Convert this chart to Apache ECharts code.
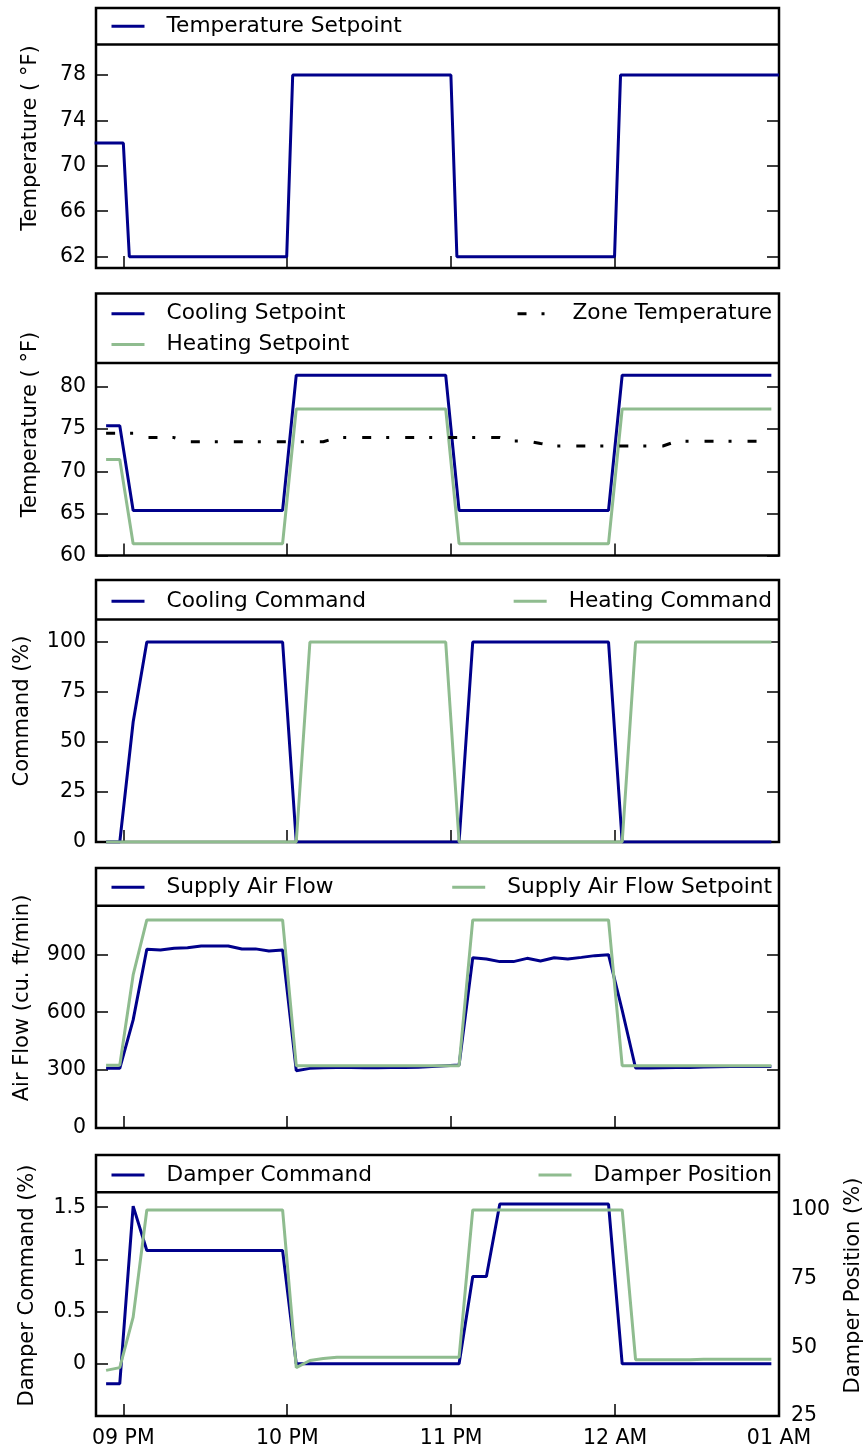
<!DOCTYPE html>
<html><head><meta charset="utf-8">
<script src="https://cdn.jsdelivr.net/npm/echarts@6/dist/echarts.min.js"></script>
<style>html,body{margin:0;padding:0;background:#fff}#c{width:867px;height:1450px}</style>
</head><body><div id="c"></div>
<script>
// x values are minutes after 20:00
const hourTicks = [60, 120, 180, 240, 300];
const hourLabels = ['09 PM', '10 PM', '11 PM', '12 AM', '01 AM'];

const sampleMinutes = [53.7, 58.7, 63.6, 68.6, 73.6, 78.6, 83.5, 88.5, 93.5, 98.4,
  103.4, 108.4, 113.3, 118.3, 123.3, 128.3, 133.2, 138.2, 143.2, 148.1,
  153.1, 158.1, 163.0, 168.0, 173.0, 178.0, 182.9, 187.9, 192.9, 197.8,
  202.8, 207.8, 212.7, 217.7, 222.7, 227.7, 232.6, 237.6, 242.6, 247.5,
  252.5, 257.5, 262.4, 267.4, 272.4, 277.4, 282.3, 287.3, 292.3, 297.2];

const setpointMinutes = [49.5, 60.0, 62.2, 119.8, 122.0, 179.9, 182.1, 239.8, 242.0, 300.0];
const temperatureSetpoint = [72, 72, 62, 62, 78, 78, 62, 62, 78, 78];

const coolingSetpoint = [75.4, 75.4,
  65.35, 65.35, 65.35, 65.35, 65.35, 65.35, 65.35, 65.35, 65.35, 65.35, 65.35, 65.35,
  81.4, 81.4, 81.4, 81.4, 81.4, 81.4, 81.4, 81.4, 81.4, 81.4, 81.4, 81.4,
  65.35, 65.35, 65.35, 65.35, 65.35, 65.35, 65.35, 65.35, 65.35, 65.35, 65.35, 65.35,
  81.4, 81.4, 81.4, 81.4, 81.4, 81.4, 81.4, 81.4, 81.4, 81.4, 81.4, 81.4];
const heatingSetpoint = [71.4, 71.4,
  61.4, 61.4, 61.4, 61.4, 61.4, 61.4, 61.4, 61.4, 61.4, 61.4, 61.4, 61.4,
  77.4, 77.4, 77.4, 77.4, 77.4, 77.4, 77.4, 77.4, 77.4, 77.4, 77.4, 77.4,
  61.4, 61.4, 61.4, 61.4, 61.4, 61.4, 61.4, 61.4, 61.4, 61.4, 61.4, 61.4,
  77.4, 77.4, 77.4, 77.4, 77.4, 77.4, 77.4, 77.4, 77.4, 77.4, 77.4, 77.4];
const zoneTemperature = [74.5, 74.5, 74.5, 74.0, 74.0, 74.0,
  73.5, 73.5, 73.5, 73.5, 73.5, 73.5, 73.5, 73.5, 73.5, 73.5, 73.5,
  74.0, 74.0, 74.0, 74.0, 74.0, 74.0, 74.0, 74.0, 74.0, 74.0, 74.0, 74.0, 74.0,
  73.6, 73.6, 73.3,
  73.0, 73.0, 73.0, 73.0, 73.0, 73.0, 73.0, 73.0, 73.0,
  73.55, 73.55, 73.55, 73.55, 73.55, 73.55, 73.55, 73.55];

const coolingCommand = [0, 0, 60,
  100, 100, 100, 100, 100, 100, 100, 100, 100, 100, 100,
  0, 0, 0, 0, 0, 0, 0, 0, 0, 0, 0, 0, 0,
  100, 100, 100, 100, 100, 100, 100, 100, 100, 100, 100,
  0, 0, 0, 0, 0, 0, 0, 0, 0, 0, 0, 0];
const heatingCommand = [0, 0, 0, 0, 0, 0, 0, 0, 0, 0, 0, 0, 0, 0, 0,
  100, 100, 100, 100, 100, 100, 100, 100, 100, 100, 100,
  0, 0, 0, 0, 0, 0, 0, 0, 0, 0, 0, 0, 0,
  100, 100, 100, 100, 100, 100, 100, 100, 100, 100, 100];

const supplyAirFlow = [309, 309, 560,
  926, 922, 931, 934, 943, 943, 943, 927, 928, 917, 922,
  297, 309, 312, 313, 313, 312, 312, 313, 314, 315, 318, 322, 326,
  882, 876, 862, 862, 879, 865, 882, 876, 884, 893, 898,
  610, 311, 311, 312, 313, 314, 316, 317, 318, 318, 318, 318];
const supplyAirFlowSetpoint = [325, 325, 793,
  1078, 1078, 1078, 1078, 1078, 1078, 1078, 1078, 1078, 1078, 1078,
  323, 323, 323, 323, 323, 323, 323, 323, 323, 323, 323, 323, 323,
  1078, 1078, 1078, 1078, 1078, 1078, 1078, 1078, 1078, 1078, 1078,
  323, 323, 323, 323, 323, 323, 323, 323, 323, 323, 323, 323];

const damperCommand = [-0.19, -0.19, 1.51,
  1.085, 1.085, 1.085, 1.085, 1.085, 1.085, 1.085, 1.085, 1.085, 1.085, 1.085,
  0, 0, 0, 0, 0, 0, 0, 0, 0, 0, 0, 0, 0,
  0.836, 0.836,
  1.53, 1.53, 1.53, 1.53, 1.53, 1.53, 1.53, 1.53, 1.53,
  0, 0, 0, 0, 0, 0, 0, 0, 0, 0, 0, 0];
const damperPosition = [41.6, 42.6, 61,
  100, 100, 100, 100, 100, 100, 100, 100, 100, 100, 100,
  42.6, 45.2, 45.9,
  46.4, 46.4, 46.4, 46.4, 46.4, 46.4, 46.4, 46.4, 46.4, 46.4,
  100, 100, 100, 100, 100, 100, 100, 100, 100, 100, 100, 100,
  45.5, 45.5, 45.5, 45.5, 45.5,
  45.7, 45.7, 45.7, 45.7, 45.7, 45.7];

const yTicks1 = [62, 66, 70, 74, 78];
const yTicks2 = [60, 65, 70, 75, 80];
const yTicks3 = [0, 25, 50, 75, 100];
const yTicks4 = [0, 300, 600, 900];
const yTicks5 = [0, 0.5, 1, 1.5];
const yTicks5r = [25, 50, 75, 100];

const FONT = 'DejaVu Sans';
const BLUE = '#00008B';
const GREEN = '#8FBC8F';
const LW = 3;
const TICK_FS = 20.5;

const panels = [
  {top: 8, bottom: 268, sep: 44.5, ymin: 61, ymax: 83.9, ticks: yTicks1, name: 'Temperature ( °F)', gap: 55},
  {top: 293.5, bottom: 555.5, sep: 363, ymin: 60, ymax: 91.1, ticks: yTicks2, name: 'Temperature ( °F)', gap: 55},
  {top: 580, bottom: 842, sep: 619.5, ymin: 0, ymax: 131, ticks: yTicks3, name: 'Command (%)', gap: 63},
  {top: 868, bottom: 1128, sep: 905.7, ymin: 0, ymax: 1347, ticks: yTicks4, name: 'Air Flow (cu. ft/min)', gap: 63},
  {top: 1155, bottom: 1416, sep: 1192.3, ymin: -0.5, ymax: 2.0, ticks: yTicks5, name: 'Damper Command (%)', gap: 58}
];

const grids = [], xAxes = [], yAxes = [], graphics = [];
panels.forEach((p, i) => {
  grids.push({left: 96, width: 683, top: p.top, height: p.bottom - p.top, show: true,
    borderColor: '#000', borderWidth: 2.5, backgroundColor: 'transparent',
    containLabel: false, outerBoundsMode: 'none'});
  xAxes.push({type: 'value', gridIndex: i, min: 50, max: 300, position: 'bottom',
    axisLine: {show: false, onZero: false}, splitLine: {show: false},
    axisTick: {inside: true, length: 12, lineStyle: {color: '#000', width: 1.5}, customValues: hourTicks},
    axisLabel: {show: i === 4, customValues: hourTicks, formatter: v => hourLabels[hourTicks.indexOf(v)],
      fontSize: TICK_FS, color: '#000', fontFamily: FONT, margin: 12}});
  yAxes.push({type: 'value', gridIndex: i, position: 'left', min: p.ymin, max: p.ymax,
    name: p.name, nameLocation: 'middle', nameGap: p.gap, nameRotate: 90,
    nameTextStyle: {fontSize: 21, color: '#000', fontFamily: FONT},
    axisLine: {show: false, onZero: false}, splitLine: {show: false},
    axisTick: {inside: true, length: 12, lineStyle: {color: '#000', width: 1.5}, customValues: p.ticks},
    axisLabel: {customValues: p.ticks, fontSize: TICK_FS, color: '#000', fontFamily: FONT, margin: 10}});
  if (i < 4) {
    yAxes.push({type: 'value', gridIndex: i, position: 'right', min: p.ymin, max: p.ymax,
      axisLine: {show: false, onZero: false}, splitLine: {show: false},
      axisTick: {inside: true, length: 12, lineStyle: {color: '#000', width: 1.5}, customValues: p.ticks},
      axisLabel: {show: false}});
  } else {
    yAxes.push({type: 'value', gridIndex: i, position: 'right', min: 25, max: 120,
      name: 'Damper Position (%)', nameLocation: 'middle', nameGap: 64, nameRotate: 90,
      nameTextStyle: {fontSize: 21, color: '#000', fontFamily: FONT},
      axisLine: {show: false, onZero: false}, splitLine: {show: false},
      axisTick: {show: false},
      axisLabel: {customValues: yTicks5r, fontSize: TICK_FS, color: '#000', fontFamily: FONT, margin: 12}});
  }
  graphics.push({type: 'line', silent: true, z: 100,
    shape: {x1: 96, y1: p.sep, x2: 779, y2: p.sep},
    style: {stroke: '#000', lineWidth: 2.5}});
});

const pairs = (xs, ys) => xs.map((x, k) => [x, ys[k]]);
function mkLine(name, xs, ys, gi, yi, color, extra) {
  return Object.assign({
    name, type: 'line', xAxisIndex: gi, yAxisIndex: yi, data: pairs(xs, ys),
    symbol: 'none', showSymbol: false, animation: false, silent: true, clip: true,
    lineStyle: {color, width: LW}, itemStyle: {color}
  }, extra || {});
}

const series = [
  mkLine('Temperature Setpoint', setpointMinutes, temperatureSetpoint, 0, 0, BLUE),
  mkLine('Cooling Setpoint', sampleMinutes, coolingSetpoint, 1, 2, BLUE),
  mkLine('Heating Setpoint', sampleMinutes, heatingSetpoint, 1, 2, GREEN),
  mkLine('Zone Temperature', sampleMinutes, zoneTemperature, 1, 2, '#000',
    {lineStyle: {color: '#000', width: LW, type: [9, 15, 3, 16], cap: 'butt'}}),
  mkLine('Cooling Command', sampleMinutes, coolingCommand, 2, 4, BLUE),
  mkLine('Heating Command', sampleMinutes, heatingCommand, 2, 4, GREEN),
  mkLine('Supply Air Flow', sampleMinutes, supplyAirFlow, 3, 6, BLUE),
  mkLine('Supply Air Flow Setpoint', sampleMinutes, supplyAirFlowSetpoint, 3, 6, GREEN),
  mkLine('Damper Command', sampleMinutes, damperCommand, 4, 8, BLUE),
  mkLine('Damper Position', sampleMinutes, damperPosition, 4, 9, GREEN)
];

function leg(name, pos, top) {
  return Object.assign({
    data: [name], top: top, padding: 0, itemWidth: 33, itemHeight: 14,
    selectedMode: false,
    itemStyle: {opacity: 0},
    lineStyle: {width: 3},
    formatter: n => '{g|}' + n,
    textStyle: {fontSize: 21.7, color: '#000', fontFamily: FONT, rich: {g: {width: 17}}}
  }, pos);
}
const legends = [
  leg('Temperature Setpoint', {left: 110}, 15.2),
  leg('Cooling Setpoint', {left: 110}, 302.8),
  leg('Heating Setpoint', {left: 110}, 333.4),
  leg('Zone Temperature', {right: 95}, 302.8),
  leg('Cooling Command', {left: 110}, 590.3),
  leg('Heating Command', {right: 95}, 590.3),
  leg('Supply Air Flow', {left: 110}, 876.2),
  leg('Supply Air Flow Setpoint', {right: 95}, 876.2),
  leg('Damper Command', {left: 110}, 1164),
  leg('Damper Position', {right: 95}, 1164)
];

const chart = echarts.init(document.getElementById('c'), null, {renderer: 'canvas'});
chart.setOption({
  animation: false,
  backgroundColor: '#fff',
  grid: grids, xAxis: xAxes, yAxis: yAxes, series, legend: legends, graphic: graphics
});
</script></body></html>
